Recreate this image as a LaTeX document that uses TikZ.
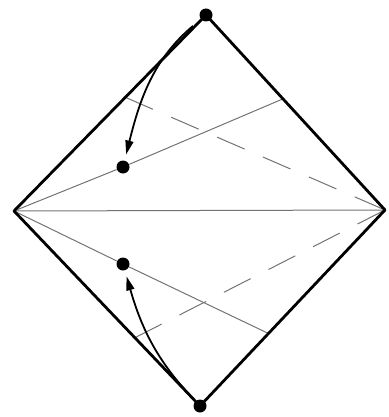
\documentclass[tikz,border=0pt]{standalone}
\usetikzlibrary{arrows.meta,calc}
\begin{document}
\begin{tikzpicture}[x=0.5pt,y=-0.5pt,
  dot/.style={circle,fill=black,inner sep=0pt,minimum size=6.5pt},
  edge/.style={line width=1.4pt,line join=round},
  ray/.style={line width=0.5pt,black!55},
  dashray/.style={ray,dash pattern=on 15pt off 10pt},
  arr/.style={-{Triangle[length=7pt,width=4pt]},line width=0.9pt}
]
\useasboundingbox (0,0) rectangle (388,417);

% vertices and events
\node[dot] (t) at (206,15) {};
\node[dot] (b) at (200,406) {};
\coordinate (l) at (14,211);
\coordinate (r) at (385,210);
\node[dot] (p1) at (123,167) {};
\node[dot] (p2) at (123,264) {};

% points where the rays meet the edges
\coordinate (ur) at ($(t)!0.43!(r)$);
\coordinate (ul) at ($(l)!0.58!(t)$);
\coordinate (lr) at ($(b)!0.37!(r)$);
\coordinate (ll) at ($(l)!0.65!(b)$);

\draw[ray] (l) -- (r);
\draw[ray] (l) -- (p1) -- (ur);
\draw[ray] (l) -- (p2) -- (lr);
\draw[dashray] (ul) -- (r);
\draw[dashray] (ll) -- (r);

\draw[edge] (l) -- (t.center) -- (r) -- (b.center) -- cycle;

\draw[arr,shorten <=5pt,shorten >=3pt] (t) to[out=-140,in=76] (p1);
\draw[arr,shorten <=4pt,shorten >=3pt] (b) to[out=133,in=-74] (p2);
\end{tikzpicture}
\end{document}
